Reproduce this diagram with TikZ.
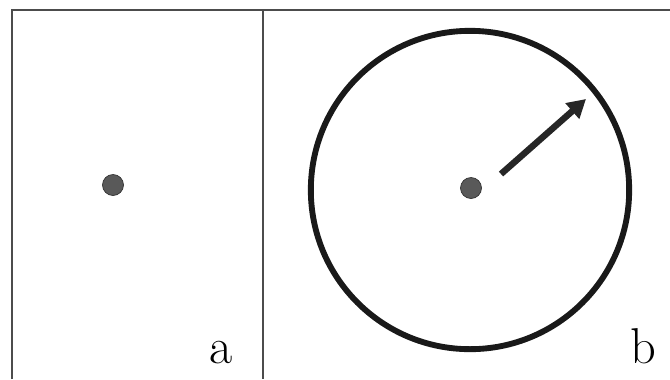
\documentclass[tikz,border=0pt]{standalone}
\usepackage{tikz}
\usetikzlibrary{arrows.meta}

\begin{document}
\begin{tikzpicture}[
        x=0.03cm, y=-0.03cm,
        frame/.style={line width=1.4pt, draw=black!70},
        dot/.style={circle, fill=black!65, draw=black!80, line width=0.6pt, inner sep=0pt, minimum size=0.63cm},
        ring/.style={circle, draw=black!90, line width=5pt, inner sep=0pt, minimum size=9.55cm},
        motion/.style={-{Triangle[length=0.55cm, width=0.6cm]}, line width=5.5pt, draw=black!85},
        panel/.style={font=\fontsize{43}{50}\selectfont, anchor=base, inner sep=0pt}
    ]
    \useasboundingbox (0,0) rectangle (670,379);
%
    % Rahmen
    \draw[frame] (12,379) -- (12,10) -- (670,10);
    \draw[frame] (263,10) -- (263,379);
%
    % Teil a
    \node[dot] (dotA) at (113,185) {};
    \node[panel] (labA) at (221,363) {a};
%
    % Teil b
    \node[ring] (ring) at (470,190) {};
    \node[dot] (dotB) at (471,188) {};
    \coordinate (tail) at (501,174);
    \coordinate (tip) at (586,99);
    \draw[motion] (tail) -- (tip);
    \node[panel] (labB) at (643,363) {b};
%
\end{tikzpicture}
\end{document}
